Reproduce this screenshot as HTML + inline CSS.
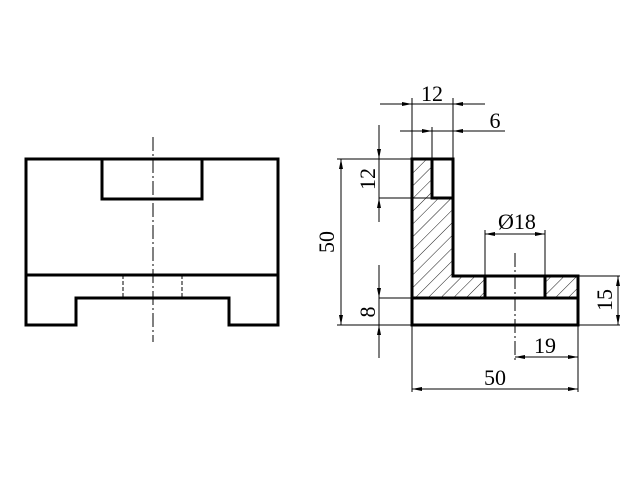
<!DOCTYPE html>
<html><head><style>body{margin:0;background:#fff}svg{display:block}</style></head><body>
<svg width="640" height="480" viewBox="0 0 640 480" xmlns="http://www.w3.org/2000/svg" font-family="Liberation Serif, serif" font-size="22">
<defs>
<pattern id="h" width="9" height="9" patternUnits="userSpaceOnUse" patternTransform="rotate(45)"><line x1="0" y1="0" x2="0" y2="9" stroke="#000" stroke-width="0.9"/></pattern>
</defs>
<rect width="640" height="480" fill="#fff"/>
<g fill="none" stroke="#000" stroke-width="3">
<path d="M26 159H278V325H229V298H76V325H26Z"/>
<line x1="26" y1="275" x2="278" y2="275"/>
<path d="M102 159V199H202V159"/>
</g>
<g stroke="#000" stroke-width="1" fill="none">
<line x1="153" y1="137" x2="153" y2="342" stroke-dasharray="14,3,2,3"/>
<line x1="123" y1="275" x2="123" y2="298" stroke-dasharray="4,2"/>
<line x1="182" y1="275" x2="182" y2="298" stroke-dasharray="4,2"/>
</g>
<path d="M412 159H432V198H453V276H485V298H412Z" fill="url(#h)"/>
<rect x="545" y="276" width="33" height="22" fill="url(#h)"/>
<g fill="none" stroke="#000" stroke-width="3">
<path d="M412 159H453V276H578V325H412Z"/>
<path d="M432 159V198H453"/>
<line x1="412" y1="298" x2="578" y2="298"/>
<line x1="485" y1="276" x2="485" y2="298"/>
<line x1="545" y1="276" x2="545" y2="298"/>
</g>
<g stroke="#000" stroke-width="1" fill="none">
<line x1="515" y1="253" x2="515" y2="362" stroke-dasharray="14,3,2,3"/>
<line x1="412" y1="98" x2="412" y2="159"/><line x1="453" y1="98" x2="453" y2="159"/>
<line x1="432" y1="127" x2="432" y2="159"/>
<line x1="380" y1="104" x2="485" y2="104"/>
<line x1="400" y1="131" x2="505" y2="131"/>
<line x1="337" y1="159" x2="412" y2="159"/>
<line x1="379" y1="198" x2="432" y2="198"/>
<line x1="379" y1="125" x2="379" y2="222"/>
<line x1="341" y1="159" x2="341" y2="325"/>
<line x1="337" y1="325" x2="412" y2="325"/>
<line x1="379" y1="298" x2="412" y2="298"/>
<line x1="379" y1="265" x2="379" y2="358"/>
<line x1="578" y1="276" x2="620" y2="276"/><line x1="578" y1="325" x2="620" y2="325"/>
<line x1="618" y1="276" x2="618" y2="325"/>
<line x1="485" y1="230" x2="485" y2="276"/><line x1="545" y1="230" x2="545" y2="276"/>
<line x1="485" y1="234" x2="545" y2="234"/>
<line x1="515" y1="357" x2="578" y2="357"/>
<line x1="578" y1="325" x2="578" y2="392"/><line x1="412" y1="325" x2="412" y2="392"/>
<line x1="412" y1="389" x2="578" y2="389"/>
</g>
<g fill="#000">
<path d="M412 104l-10-2v4z"/><path d="M453 104l10-2v4z"/>
<path d="M432 131l-10-2v4z"/><path d="M453 131l10-2v4z"/>
<path d="M485 234l10-2v4z"/><path d="M545 234l-10-2v4z"/>
<path d="M515 357l10-2v4z"/><path d="M578 357l-10-2v4z"/>
<path d="M412 389l10-2v4z"/><path d="M578 389l-10-2v4z"/>
<path d="M379 159l-2-10h4z"/><path d="M379 198l-2 10h4z"/>
<path d="M341 159l-2 10h4z"/><path d="M341 325l-2-10h4z"/>
<path d="M379 298l-2-10h4z"/><path d="M379 325l-2 10h4z"/>
<path d="M618 276l-2 10h4z"/><path d="M618 325l-2-10h4z"/>
</g>
<g fill="#000" text-anchor="middle">
<text x="432" y="101">12</text>
<text x="495" y="128">6</text>
<text x="517" y="229">Ø18</text>
<text x="545" y="353">19</text>
<text x="495" y="385">50</text>
<text transform="translate(375 179) rotate(-90)">12</text>
<text transform="translate(334 242) rotate(-90)">50</text>
<text transform="translate(375 312) rotate(-90)">8</text>
<text transform="translate(612 300) rotate(-90)">15</text>
</g>
</svg>
</body></html>
